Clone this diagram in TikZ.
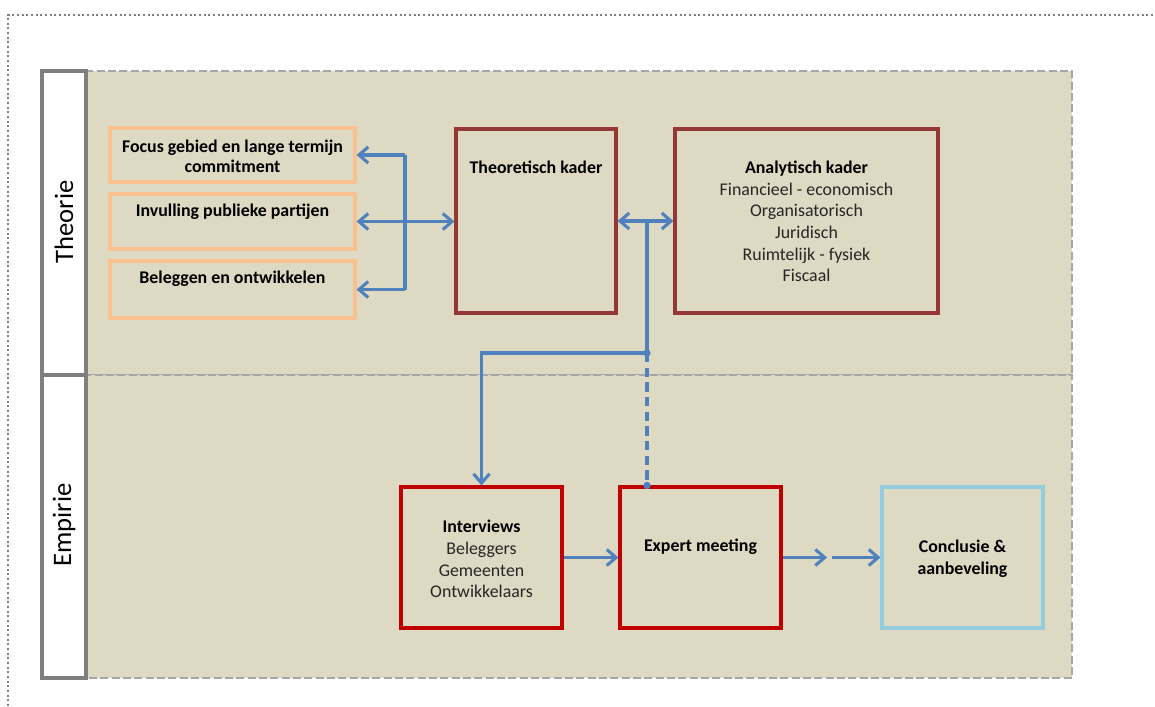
\documentclass[tikz,border=0pt]{standalone}
\usepackage{fontspec}
\setmainfont{Carlito}
\usetikzlibrary{arrows.meta}
\definecolor{tanfill}{HTML}{DDD9C3}
\definecolor{lanedash}{HTML}{A6A6A6}
\definecolor{headgray}{HTML}{7F7F7F}
\definecolor{orangeb}{HTML}{FAC090}
\definecolor{darkredb}{HTML}{953735}
\definecolor{redb}{HTML}{C00000}
\definecolor{blueline}{HTML}{4F81BD}
\definecolor{lightblueb}{HTML}{93CDDD}
\definecolor{txtgray}{HTML}{262626}
\tikzset{
  lane/.style={fill=tanfill, draw=lanedash, line width=1.9pt, dash pattern=on 6pt off 2.5pt},
  lanehead/.style={draw=headgray, fill=white, line width=2.3pt, minimum width=33pt, minimum height=228pt, inner sep=0pt},
  headtext/.style={rotate=90, font=\fontsize{20}{24}\selectfont},
  obox/.style={draw=orangeb, line width=2.3pt, minimum width=183.75pt, inner sep=0pt},
  dbox/.style={draw=darkredb, line width=2.3pt, minimum height=138pt, inner sep=0pt},
  rbox/.style={draw=redb, line width=2.3pt, minimum width=120.75pt, minimum height=105.75pt, inner sep=0pt},
  bbox/.style={draw=lightblueb, line width=2.3pt, minimum width=120.75pt, minimum height=105.75pt, inner sep=0pt},
  btext/.style={align=center, font=\bfseries\fontsize{13.4}{15}\selectfont, inner sep=0pt},
  ltext/.style={align=center, font=\fontsize{13.4}{16.2}\selectfont, text=txtgray, inner sep=0pt},
  conn/.style={draw=blueline, line width=2.3pt, arrows={-Straight Barb[length=7pt,width=12pt]}},
  dconn/.style={draw=blueline, line width=2.3pt, arrows={Straight Barb[length=7pt,width=12pt]-Straight Barb[length=7pt,width=12pt]}},
  plain/.style={draw=blueline, line width=2.3pt},
  jdot/.style={fill=blueline, circle, inner sep=0pt, minimum size=5.5pt},
}
\begin{document}
\begin{tikzpicture}[x=0.75pt,y=-0.75pt]
\useasboundingbox (0,0) rectangle (1155,706);
% outer dotted frame
\draw[headgray, line width=1.5pt, dash pattern=on 1.5pt off 2pt] (8,706) -- (8,15) -- (1155,15);
% lanes
\draw[lane] (86,71) rectangle (1072,375);
\draw[lane] (86,375) rectangle (1072,678);
\node[lanehead] (thhead) at (64,223) {};
\node[lanehead, minimum height=227.25pt] (emhead) at (64,526.5) {};
\node[headtext] (thlab) at (64,222) {Theorie};
\node[headtext] (emlab) at (64,525) {Empirie};
% orange boxes
\node[obox, minimum height=40.5pt] (b1) at (232.5,155) {};
\node[obox, minimum height=41.25pt] (b2) at (232.5,221.5) {};
\node[obox, minimum height=42.75pt] (b3) at (232.5,289.5) {};
\node[btext] (t1) at (232.5,156) {Focus gebied en lange termijn\\commitment};
\node[btext] (t2) at (232.5,212) {Invulling publieke partijen};
\node[btext] (t3) at (232.5,279) {Beleggen en ontwikkelen};
% theory boxes
\node[dbox, minimum width=120pt] (tk) at (536,221) {};
\node[dbox, minimum width=197.25pt] (ak) at (806.5,221) {};
\node[btext] (tkt) at (536,167) {Theoretisch kader};
\node[ltext] (akt) at (806.5,221.5) {\textbf{\color{black}Analytisch kader}\\
  Financieel - economisch\\
  Organisatorisch\\
  Juridisch\\
  Ruimtelijk - fysiek\\
  Fiscaal};
% empirie boxes
\node[rbox] (iv) at (481.5,557.5) {};
\node[rbox] (em) at (700.5,557.5) {};
\node[bbox] (cl) at (962.5,557.5) {};
\node[ltext] (ivt) at (481.5,559) {\textbf{\color{black}Interviews}\\
  Beleggers\\
  Gemeenten\\
  Ontwikkelaars};
\node[btext] (emt) at (700.5,547) {Expert meeting};
\node[btext, font=\bfseries\fontsize{13.4}{16.5}\selectfont] (clt) at (962.5,559) {Conclusie \&\\aanbeveling};
% connectors theory
\coordinate (v1) at (405,155);
\coordinate (v3) at (405,289.5);
\draw[plain] (v1) -- (v3);
\draw[conn] (v1) -- (b1.east);
\draw[conn] (v3) -- (b3.east);
\draw[dconn] (b2.east) -- (b2.east -| tk.west);
\draw[dconn] (tk.east) -- (ak.west);
\coordinate (jt) at (647,221);
\coordinate (jm) at (647,353);
\draw[plain] (jt) -- (jm);
\draw[conn] (jm) -| (iv.north);
\draw[plain, dash pattern=on 7pt off 4pt] (jm) -- (jm |- em.north);
\node[jdot] (d1) at (jm) {};
\node[jdot] (d2) at (jm |- em.north) {};
% connectors empirie
\draw[conn] (iv.east) -- (em.west);
\coordinate (g1) at (827,557.5);
\coordinate (g2) at (832,557.5);
\draw[conn] (em.east) -- (g1);
\draw[conn] (g2) -- (cl.west);
\end{tikzpicture}
\end{document}
